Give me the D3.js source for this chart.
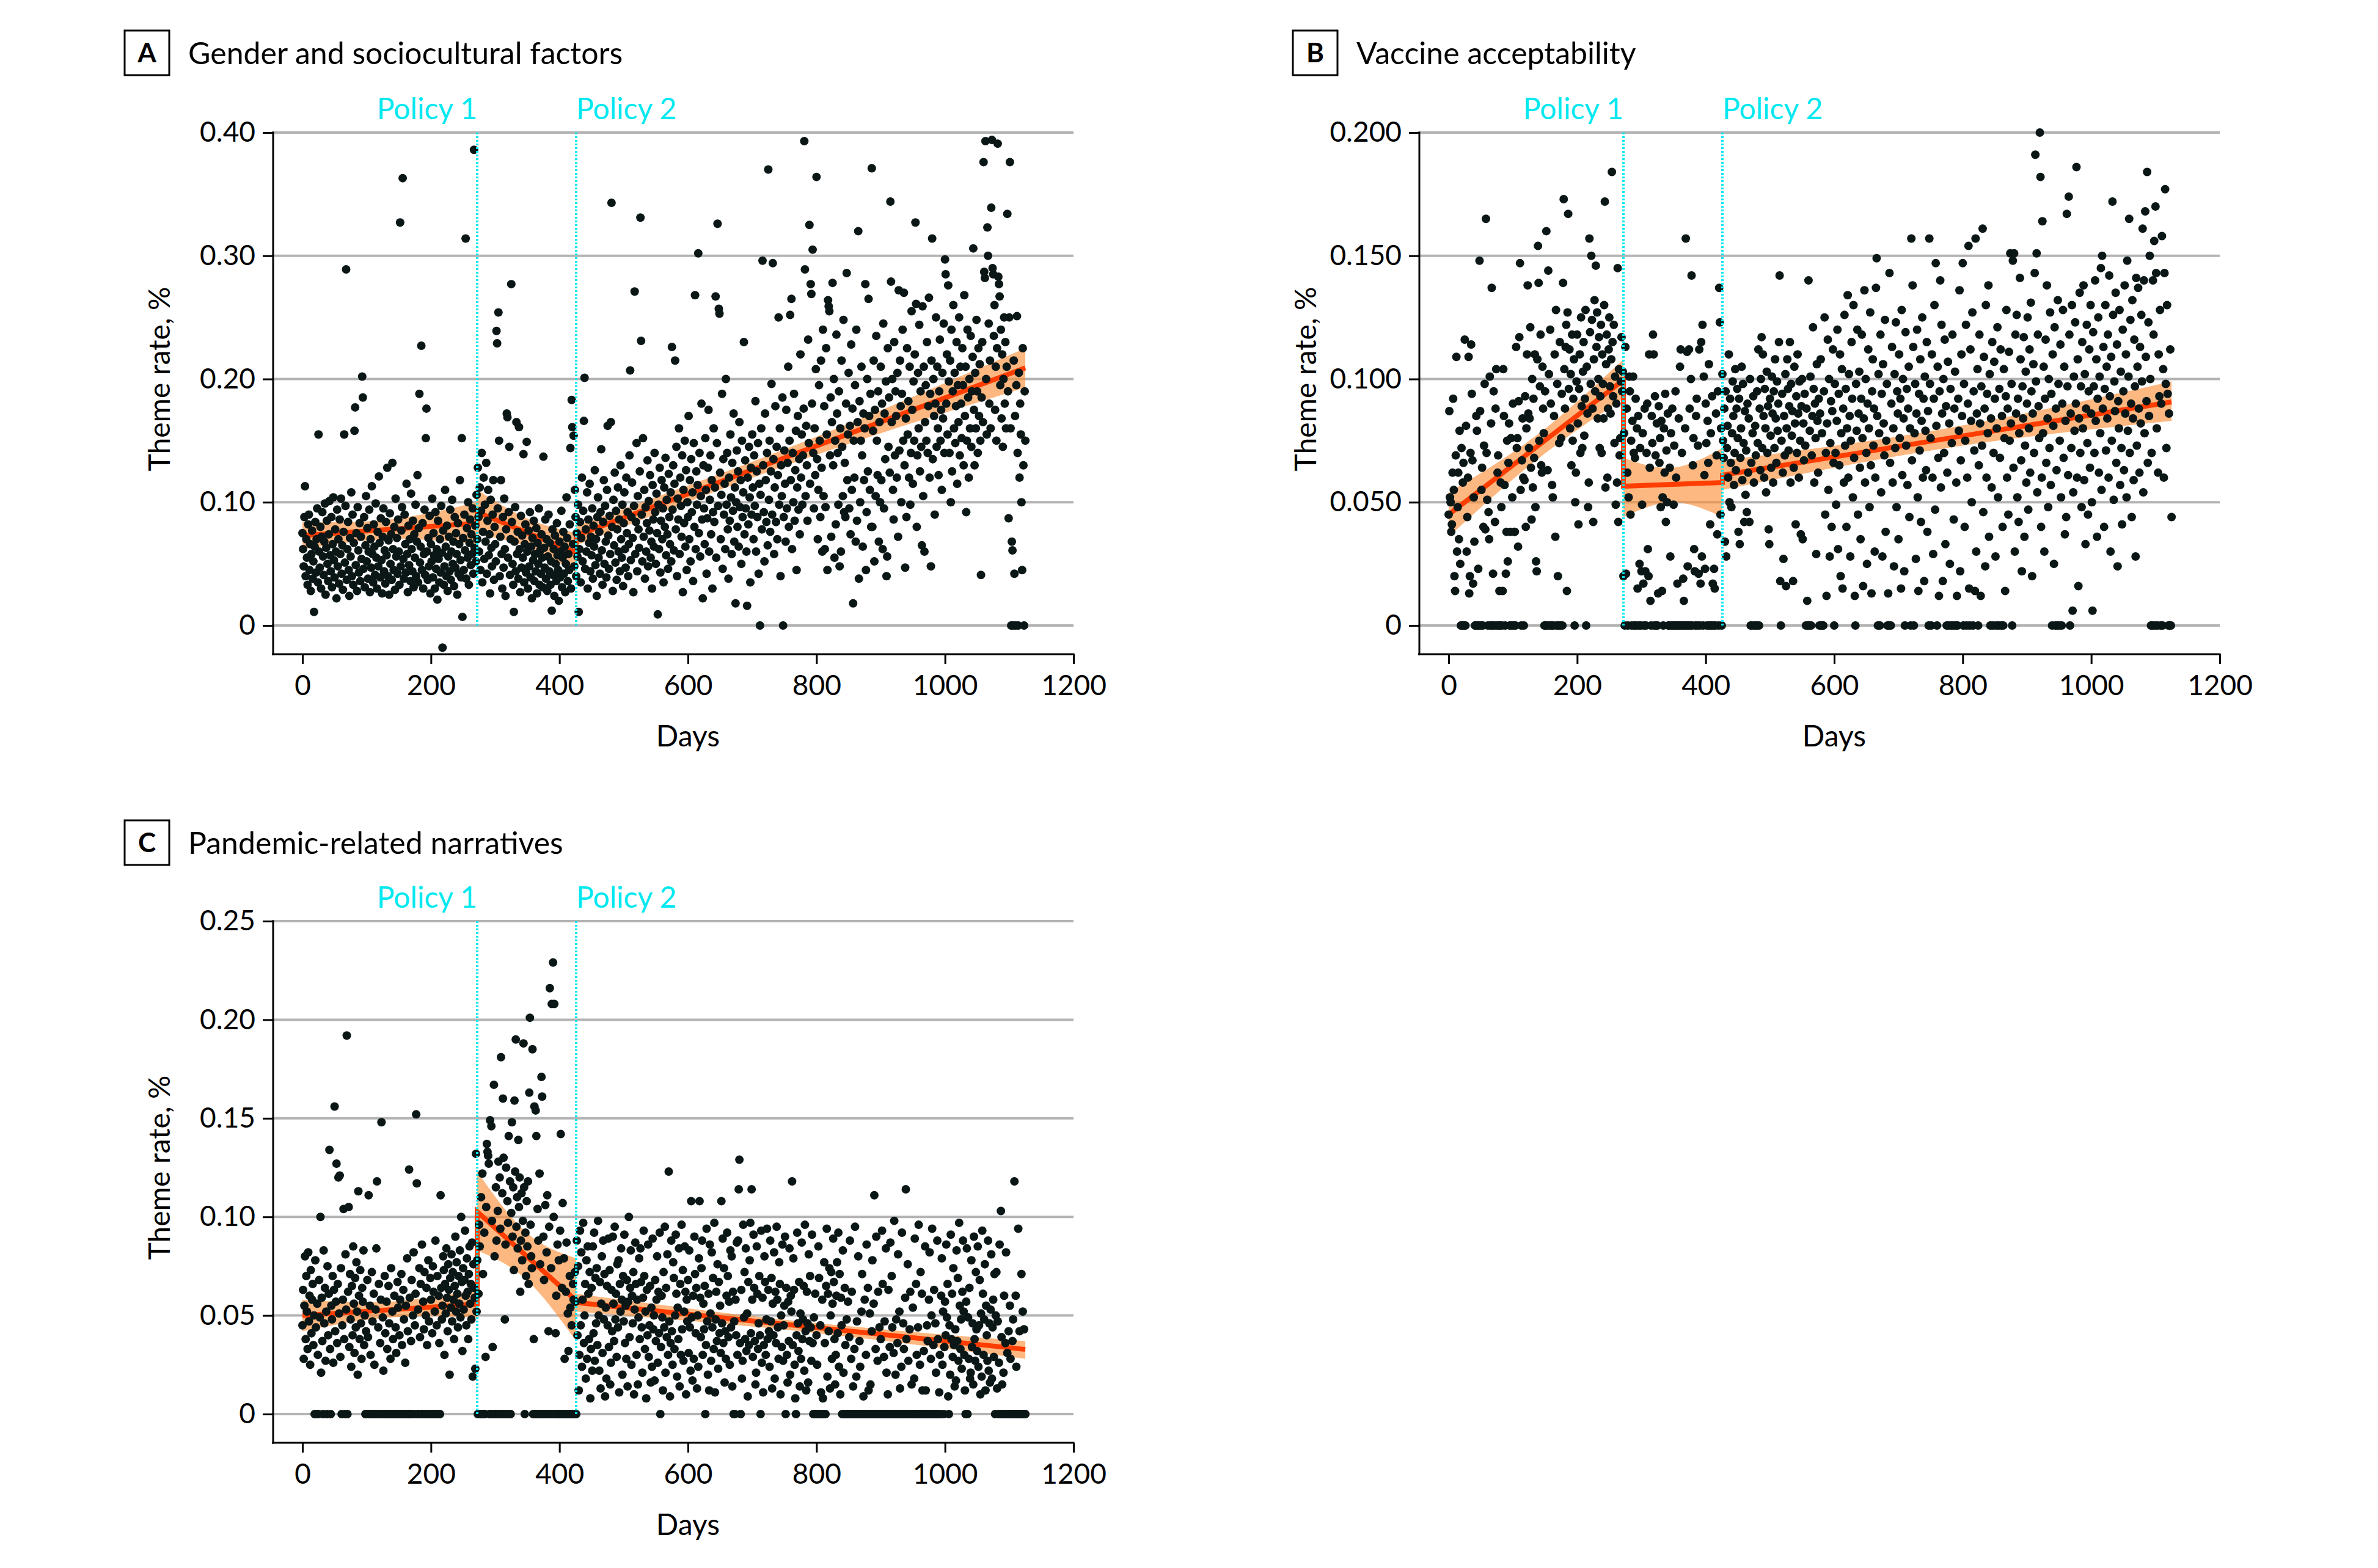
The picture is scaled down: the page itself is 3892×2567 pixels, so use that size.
<!DOCTYPE html>
<html>
<head>
<meta charset="utf-8">
<script src="https://cdn.jsdelivr.net/npm/d3@7"></script>
<style>
  body { margin: 0; background: #fff; }
</style>
</head>
<body>
<div id="container"></div>
<script>
// daily theme rates, one value per day starting at day 0, in thousandths of a percent
const genderRates = [
  75,62,48,88,113,40,70,55,33,82,90,45,66,28,58,77,38,52,11,64,84,43,70,95,35,
  155,60,47,80,30,72,92,56,41,68,99,25,63,85,50,36,74,101,57,44,88,31,66,104,53,
  39,78,60,22,94,48,70,34,86,58,103,42,65,29,76,155,51,97,289,37,62,84,45,24,71,
  56,108,40,90,33,67,158,177,49,75,28,96,61,43,83,36,72,54,202,185,46,88,31,65,105,
  52,79,38,60,94,27,70,47,113,58,35,82,64,41,99,55,30,76,48,121,67,39,87,53,26,
  72,95,44,61,34,84,57,128,40,69,25,91,50,74,37,132,62,45,80,29,103,56,71,42,86,
  60,33,327,48,77,96,363,54,38,90,66,43,115,58,27,81,49,70,36,107,62,44,85,31,74,
  55,98,40,68,122,35,79,188,51,64,227,45,83,30,58,94,41,152,176,60,37,71,48,89,26,
  66,52,103,39,75,57,30,92,46,62,21,85,54,35,70,43,97,59,-18,77,33,48,110,64,40,
  81,28,56,72,44,94,37,60,102,50,68,32,88,47,75,58,25,83,42,66,118,53,39,152,7,
  71,45,90,61,314,38,79,55,100,33,67,86,49,74,58,95,42,386,63,81,52,106,70,128,88,
  60,112,45,93,140,35,76,120,54,98,68,132,42,85,110,57,74,26,102,63,48,90,118,37,80,
  66,52,239,229,95,254,150,40,72,118,58,30,88,47,103,62,24,78,172,169,55,92,145,41,70,
  277,84,50,33,11,68,96,44,165,58,76,38,161,62,27,89,47,73,55,139,35,66,82,43,149,
  60,30,77,48,92,39,64,22,71,53,85,36,58,44,79,26,67,50,95,33,61,42,74,55,31,
  137,63,47,86,38,70,28,56,90,44,67,33,52,12,78,41,62,24,73,50,36,83,57,45,20,
  68,39,60,93,31,55,76,42,64,27,50,104,71,36,58,45,82,144,30,183,161,66,154,48,110,
  88,40,75,56,98,11,62,84,35,71,120,52,93,166,201,46,78,60,108,30,86,67,115,44,72,
  57,95,38,81,64,126,49,70,24,88,104,55,76,42,92,143,61,33,84,118,50,97,68,39,110,
  162,73,46,89,58,165,343,80,28,102,65,124,51,93,37,78,112,60,86,44,130,70,55,98,32,
  83,108,62,47,120,75,92,40,66,138,207,53,88,116,71,27,97,271,58,84,148,44,105,78,63,
  125,331,231,90,52,152,72,110,38,96,60,83,134,48,101,77,122,55,68,30,114,86,64,140,92,
  50,107,75,9,98,62,128,43,85,118,70,95,35,112,80,136,57,102,74,46,123,88,66,108,52,
  226,94,130,61,115,215,78,145,40,103,86,160,58,120,97,72,138,27,110,83,150,64,126,45,100,
  88,170,70,118,52,135,92,108,36,148,80,268,62,125,98,114,302,75,140,56,105,180,86,22,130,
  95,66,152,110,42,87,128,175,60,102,138,74,118,30,92,160,84,112,267,55,148,326,97,257,253,
  124,70,106,188,46,135,90,115,62,200,98,140,78,38,120,85,155,104,58,132,93,172,68,112,18,
  100,142,80,125,64,165,96,118,50,150,88,108,230,74,134,95,60,16,120,82,145,104,35,128,90,
  155,112,70,138,97,182,60,125,88,148,42,115,0,106,160,78,296,130,92,52,172,118,84,140,65,
  370,102,150,76,125,196,90,294,135,58,112,178,84,145,70,122,250,98,160,40,130,105,185,0,88,
  142,115,68,175,95,132,210,80,150,252,118,265,62,140,100,188,85,126,158,45,112,170,94,135,74,
  220,120,155,98,138,176,393,289,105,162,130,85,232,148,325,115,277,269,180,305,140,95,160,122,208,
  364,135,70,110,195,150,88,215,128,60,240,105,178,62,96,225,155,45,264,259,255,138,185,72,165,
  278,130,200,55,150,82,236,172,140,98,190,48,160,60,215,145,105,248,92,132,88,180,286,118,155,
  205,95,162,74,228,110,176,18,150,120,195,68,240,85,165,320,38,182,100,150,210,138,64,172,118,
  160,277,45,92,200,125,265,170,110,188,80,371,80,158,215,52,175,105,235,150,122,190,68,165,100,
  210,118,180,62,245,95,172,135,198,40,56,225,145,185,124,344,279,165,200,110,86,230,138,190,170,
  120,205,72,272,142,215,178,100,188,240,150,270,130,47,168,88,225,155,182,120,210,98,140,255,175,
  115,198,150,220,327,261,80,138,205,160,244,125,190,145,65,259,105,210,60,165,195,150,230,140,178,
  266,120,188,48,215,314,135,200,170,90,180,250,145,210,160,122,190,232,150,175,110,205,168,245,140,
  297,285,180,220,155,276,198,140,215,100,240,125,190,260,160,205,148,178,230,115,195,165,250,138,210,
  180,152,225,195,130,268,170,210,92,150,240,185,120,200,160,235,145,190,218,306,175,130,205,160,248,
  190,140,225,170,212,150,41,185,230,165,376,287,282,393,200,155,323,300,245,180,215,160,339,394,290,
  285,235,260,175,210,150,225,391,283,277,267,195,240,168,220,145,200,250,180,230,160,210,334,190,87,
  250,376,160,0,68,61,0,215,42,170,0,195,251,140,0,205,120,180,155,100,45,225,130,0,190,
  150
]

const vaccineRates = [
  45,87,52,50,38,41,62,92,55,20,14,69,109,30,48,62,35,79,25,0,72,0,58,66,0,
  116,0,81,30,44,60,109,13,20,70,114,94,67,17,52,34,0,0,85,79,0,23,0,148,87,
  0,55,64,0,40,73,98,39,165,70,51,0,46,35,101,0,82,137,0,21,95,0,42,88,104,
  0,62,69,0,14,0,58,48,0,14,104,85,57,0,21,38,75,26,66,82,0,38,76,0,52,
  90,0,38,38,0,113,72,76,32,91,117,147,55,0,67,84,60,0,59,93,40,80,110,138,86,
  72,84,121,64,43,100,56,92,68,110,48,26,22,108,154,139,75,97,118,65,62,105,88,78,0,
  95,0,160,0,63,144,102,0,120,90,0,57,52,0,85,110,36,128,0,98,20,0,74,115,0,
  76,94,0,139,173,104,88,113,122,14,127,167,96,112,80,102,65,118,75,92,108,0,50,62,99,
  118,82,41,96,110,70,125,89,72,103,115,77,92,128,0,105,86,48,58,157,119,98,150,124,88,
  42,108,132,95,146,113,127,84,100,117,72,93,122,70,110,98,84,130,172,56,106,118,60,88,112,
  125,97,86,108,184,115,93,122,74,101,49,90,58,145,42,104,69,76,99,117,95,103,20,78,0,
  113,21,88,62,0,52,101,95,45,75,0,83,101,70,0,68,92,0,80,15,85,0,25,72,0,
  22,49,78,17,0,88,22,0,70,90,31,20,110,64,10,0,85,74,118,110,0,93,69,0,82,
  0,13,89,66,76,48,83,14,52,0,80,62,94,42,71,50,86,0,0,64,28,78,0,88,0,
  49,73,0,95,60,0,17,0,84,0,105,112,0,70,0,19,10,0,80,157,0,111,24,0,112,
  88,0,100,142,0,65,76,31,22,0,85,92,0,73,21,112,0,17,115,28,122,0,101,61,23,
  90,74,0,83,66,106,0,41,78,0,93,17,0,23,15,0,86,69,37,95,0,137,123,45,80,
  0,102,75,68,88,34,95,28,72,81,60,110,50,92,66,48,78,99,85,57,70,104,63,88,96,
  76,38,92,33,68,80,105,59,98,74,42,87,53,71,46,90,62,84,42,100,0,66,0,78,93,
  58,0,81,69,0,95,74,112,0,88,63,100,117,72,110,85,60,96,80,54,103,70,89,39,33,
  92,77,64,101,86,58,95,72,108,84,66,99,79,90,115,142,18,0,75,94,62,27,85,69,102,
  16,80,108,96,71,89,115,58,98,77,87,18,64,105,82,41,93,70,110,86,60,99,75,37,89,
  100,35,82,67,94,73,0,88,10,0,140,0,79,101,0,69,85,121,96,58,90,76,29,106,83,
  62,92,0,86,108,0,78,0,0,95,125,45,70,12,82,116,55,100,28,74,91,40,87,112,66,
  0,98,70,49,83,120,31,94,65,110,20,78,104,15,88,58,126,73,96,40,80,134,60,102,85,
  28,75,115,92,52,130,68,12,0,98,79,120,45,86,103,64,35,92,118,76,16,84,136,58,100,
  70,25,90,112,80,48,127,65,13,95,108,73,88,30,60,137,149,85,0,102,78,0,118,54,94,
  28,106,82,69,124,38,75,98,0,13,0,143,66,0,90,113,58,80,24,102,72,123,48,95,86,
  35,110,76,92,15,128,61,100,84,22,0,119,73,96,57,88,105,44,80,0,157,67,138,113,0,
  78,98,27,86,120,52,14,94,71,108,42,83,125,60,92,18,101,79,63,115,38,87,0,157,98,
  76,0,110,60,29,92,130,47,147,81,0,105,68,12,95,140,56,122,86,18,100,70,116,33,89,
  0,62,107,0,82,25,96,0,74,118,0,43,88,103,0,58,12,0,92,79,136,22,67,110,85,
  147,0,98,40,75,122,0,60,90,154,15,0,112,83,50,127,0,95,71,14,157,30,86,104,0,
  65,118,82,12,97,73,161,46,109,88,24,130,60,94,78,138,36,102,0,84,56,115,0,70,107,
  92,28,0,80,121,52,0,96,68,112,0,85,40,0,104,76,14,93,128,60,88,45,111,75,151,
  82,98,0,148,64,151,30,118,86,126,52,92,42,78,141,108,67,22,97,84,117,36,73,103,58,
  90,125,47,80,112,62,131,95,20,86,106,70,143,191,99,151,54,118,89,76,200,182,40,60,164,
  78,105,30,92,116,66,138,84,48,100,72,127,57,94,0,110,81,25,121,0,88,63,0,132,98,
  0,75,114,52,0,90,128,68,105,37,83,44,167,97,61,174,118,0,86,72,130,6,54,101,79,
  123,90,186,60,108,16,84,135,70,97,48,115,80,138,59,102,33,88,122,74,45,95,112,64,130,
  86,50,6,119,97,70,140,83,108,36,92,125,62,101,78,145,55,150,88,113,40,96,130,71,105,
  84,118,60,142,93,30,109,75,172,126,51,99,87,135,66,114,24,91,80,128,57,103,72,41,120,
  95,63,138,86,110,52,148,79,101,165,70,124,90,44,132,84,59,116,97,28,141,73,105,137,88,
  62,113,82,126,99,161,54,140,78,168,109,91,184,66,123,85,150,100,0,70,0,140,118,156,0,
  170,143,80,0,62,110,93,128,0,90,158,0,104,60,143,177,98,72,130,94,0,86,0,112,0,
  44
]

const pandemicRates = [
  45,63,28,55,80,38,70,52,33,82,47,60,25,73,41,58,66,35,50,0,78,44,0,56,30,
  0,68,49,100,21,59,37,0,83,46,64,27,52,0,75,40,61,134,33,0,55,48,70,26,63,
  156,42,57,127,36,66,120,51,121,29,74,0,45,58,104,38,0,81,53,192,0,62,105,34,71,
  48,24,65,40,85,56,31,69,44,77,52,20,113,60,38,73,46,28,64,57,83,35,50,0,42,
  0,68,39,111,0,55,30,0,72,47,0,61,25,0,53,84,118,0,44,66,0,36,58,148,0,
  49,22,0,70,41,0,57,33,0,65,46,0,28,74,0,52,38,0,60,0,44,31,0,67,54,
  0,40,58,0,71,35,0,63,48,0,26,55,0,79,42,0,124,59,0,37,68,0,50,82,0,
  45,61,152,117,0,53,0,74,39,66,0,86,0,57,43,72,0,50,64,35,0,78,47,0,69,
  58,0,41,75,62,0,52,88,0,45,70,0,60,36,0,111,64,48,55,80,73,30,66,51,84,
  59,42,76,63,20,69,54,81,47,72,58,38,65,90,52,77,61,44,70,56,83,49,100,67,32,
  74,53,68,93,60,45,79,62,38,71,85,56,66,48,87,19,76,64,59,23,132,52,78,0,61,
  96,85,0,110,0,122,71,0,92,0,29,105,137,133,131,127,0,149,0,146,98,34,0,167,80,
  0,115,88,0,103,128,0,120,94,181,0,112,160,130,0,48,86,125,0,108,97,141,0,118,0,
  102,148,90,115,73,159,123,190,95,110,84,139,105,120,62,88,112,78,98,188,115,0,92,70,108,
  85,118,66,163,201,96,80,74,185,0,38,156,0,154,141,0,104,88,0,122,76,0,171,161,0,
  90,68,0,106,0,82,111,0,42,95,216,0,74,208,0,229,100,208,0,41,60,0,86,0,78,
  0,93,142,0,64,107,0,79,28,0,62,87,0,51,32,0,70,54,0,45,0,66,58,0,72,
  57,0,88,40,75,12,30,93,45,82,24,58,97,36,50,66,18,78,28,85,61,38,72,8,33,
  64,22,85,41,92,27,69,46,74,35,98,50,22,67,13,56,80,31,88,48,71,9,54,18,65,
  45,89,34,73,15,26,63,42,90,56,37,95,48,61,29,76,44,78,11,66,52,84,58,20,70,
  47,91,36,55,28,68,14,57,100,39,64,83,25,60,46,72,10,53,87,66,30,58,15,49,79,
  38,84,67,44,21,59,93,70,33,52,8,63,40,86,29,45,65,16,54,24,89,43,50,17,68,
  37,58,80,26,62,41,92,0,34,60,49,12,72,44,95,21,64,39,81,30,123,47,9,36,88,
  42,25,77,69,33,50,91,61,19,54,38,84,14,66,30,96,43,73,27,52,85,62,10,58,47,
  68,31,83,44,22,108,49,17,60,28,90,71,41,64,13,50,24,79,108,59,39,74,88,30,56,
  43,65,0,35,94,47,20,61,12,86,51,27,82,44,69,33,97,11,48,62,37,76,23,67,41,
  55,31,108,46,89,36,74,16,42,28,60,92,70,39,57,25,83,44,80,14,62,0,47,0,58,
  40,87,30,88,114,129,36,0,63,18,27,96,49,72,38,84,32,51,9,67,35,78,97,41,114,
  58,29,91,64,37,15,21,85,61,33,46,70,40,0,93,26,59,11,35,80,67,30,48,94,38,
  63,42,24,88,47,69,13,56,40,82,18,62,36,95,58,44,28,77,66,10,50,34,86,27,45,
  55,90,0,64,30,16,57,37,84,20,60,52,118,35,79,63,25,8,0,40,92,46,32,67,14,
  51,28,87,38,48,65,22,96,42,12,62,46,16,81,37,70,44,27,91,36,0,49,0,61,0,
  40,25,0,85,69,0,45,11,0,58,8,0,77,36,0,65,94,19,61,42,74,13,50,72,28,
  56,89,67,38,15,30,60,77,41,92,24,71,10,59,45,0,83,21,0,64,35,0,48,0,57,
  0,39,88,0,28,62,0,14,0,33,95,0,19,47,0,80,0,37,24,0,52,71,0,9,0,
  58,0,30,86,0,64,12,0,51,15,0,42,78,0,56,111,0,33,90,0,27,62,0,44,0,
  38,0,93,66,0,29,47,0,84,21,0,10,63,0,34,87,0,70,44,0,31,98,0,20,48,
  0,36,81,0,52,13,0,24,92,0,46,33,0,59,114,38,0,76,27,0,43,62,0,15,0,
  54,0,18,89,0,66,30,0,44,96,0,25,72,0,61,12,0,32,0,85,12,0,45,37,0,
  58,82,0,28,50,94,0,35,63,0,46,21,0,88,38,0,11,30,0,60,79,25,52,0,34,
  57,40,86,49,66,9,0,45,20,91,38,61,29,74,35,14,43,17,83,37,69,27,97,55,33,
  48,23,62,88,52,30,12,0,57,84,0,49,28,64,18,21,78,34,46,15,90,38,27,72,43,
  32,85,24,45,68,10,51,19,93,61,30,48,76,12,55,40,27,88,22,46,16,53,81,18,44,
  58,29,71,0,50,72,13,47,0,26,86,0,103,39,15,0,21,60,0,36,82,0,31,0,42,
  0,55,28,0,0,37,48,0,118,0,60,24,0,0,94,0,42,0,0,71,0,52,0,43,0,
  0
]

// segmented regression fit: [day, rate in thousandths]
const genderFit = [[0, 73], [272, 83], [272, 92], [426, 59], [426, 73], [1125, 209]]
const vaccineFit = [[0, 45], [272, 99.6], [272, 56.5], [426, 58], [426, 61], [1125, 90.7]]
const pandemicFit = [[0, 50], [272, 55.8], [272, 102.6], [426, 57.5], [426, 56.6], [1125, 32.8]]

// confidence bands per segment: [day, lower, upper]
const genderBand = [
  [[0, 62, 84], [136, 70, 86], [272, 66, 100]],
  [[272, 74, 110], [349, 64, 87], [426, 43, 75]],
  [[426, 65, 81], [775, 134, 148], [1125, 193, 225]]
]
const vaccineBand = [
  [[0, 36, 54], [136, 67, 77], [272, 92, 108]],
  [[272, 44, 68], [349, 50, 64], [426, 44, 72]],
  [[426, 55, 67], [775, 72, 80], [1125, 83, 99]]
]
const pandemicBand = [
  [[0, 42, 58], [136, 49, 57], [272, 49, 63]],
  [[272, 83, 123], [349, 68, 92], [426, 37, 79]],
  [[426, 52, 61], [775, 42, 47], [1125, 28, 37]]
]

const policyDays = [272, 426]
const policyLabels = ['Policy 1', 'Policy 2']
const xTicks = [0, 200, 400, 600, 800, 1000, 1200]
const yTicksGender = [0, 0.10, 0.20, 0.30, 0.40]
const yTicksVaccine = [0, 0.050, 0.100, 0.150, 0.200]
const yTicksPandemic = [0, 0.05, 0.10, 0.15, 0.20, 0.25]

const panels = [
  { letter: 'A', title: 'Gender and sociocultural factors', rates: genderRates, fit: genderFit, band: genderBand,
    yTicks: yTicksGender, fmt: d => d === 0 ? '0' : d3.format('.2f')(d), dx: 0, dy: 0, boxX: 204, boxY: 50 },
  { letter: 'B', title: 'Vaccine acceptability', rates: vaccineRates, fit: vaccineFit, band: vaccineBand,
    yTicks: yTicksVaccine, fmt: d => d === 0 ? '0' : d3.format('.3f')(d), dx: 1876, dy: 0, boxX: 2116, boxY: 50 },
  { letter: 'C', title: 'Pandemic-related narratives', rates: pandemicRates, fit: pandemicFit, band: pandemicBand,
    yTicks: yTicksPandemic, fmt: d => d === 0 ? '0' : d3.format('.2f')(d), dx: 0, dy: 1291, boxX: 204, boxY: 1343 }
]

const W = 3892, H = 2567
const font = "Lato, 'Liberation Sans', sans-serif"
const cyan = '#00e8f0'

const svg = d3.select('#container')
  .append('svg')
  .attr('width', W)
  .attr('height', H)
  .style('background', '#fff')

panels.forEach(p => {
  // header box + title
  svg.append('rect')
    .attr('x', p.boxX).attr('y', p.boxY)
    .attr('width', 73).attr('height', 73)
    .attr('fill', 'none').attr('stroke', '#000').attr('stroke-width', 3)
  svg.append('text')
    .attr('x', p.boxX + 36.5).attr('y', p.boxY + 52)
    .attr('text-anchor', 'middle')
    .attr('font-family', font).attr('font-weight', 'bold').attr('font-size', 44)
    .text(p.letter)
  svg.append('text')
    .attr('x', p.boxX + 104).attr('y', p.boxY + 55)
    .attr('font-family', font).attr('font-size', 50)
    .text(p.title)

  const g = svg.append('g').attr('transform', `translate(${p.dx},${p.dy})`)
  const yMax = p.yTicks[p.yTicks.length - 1]

  const x = d3.scaleLinear().domain([0, 1200]).range([495, 1757])
  const y = d3.scaleLinear().domain([0, yMax]).range([1024, 217])

  //gridlines
  g.append('g').selectAll('line')
    .data(p.yTicks)
    .join('line')
    .attr('x1', 445).attr('x2', 1757)
    .attr('y1', d => y(d)).attr('y2', d => y(d))
    .attr('stroke', '#b3b3b3').attr('stroke-width', 4)

  //confidence bands
  const area = d3.area()
    .x(d => x(d[0]))
    .y0(d => y(d[1] / 1000))
    .y1(d => y(d[2] / 1000))
    .curve(d3.curveNatural)
  g.append('g').selectAll('path')
    .data(p.band)
    .join('path')
    .attr('d', area)
    .attr('fill', '#fb8a32')
    .attr('fill-opacity', 0.62)

  //fit line
  const line = d3.line().x(d => x(d[0])).y(d => y(d[1] / 1000))
  g.append('path')
    .attr('d', line(p.fit))
    .attr('fill', 'none')
    .attr('stroke', '#ff3d00')
    .attr('stroke-width', 8)

  //daily points
  g.append('g').selectAll('circle')
    .data(p.rates)
    .join('circle')
    .attr('cx', (d, i) => x(i))
    .attr('cy', d => y(d / 1000))
    .attr('r', 7)
    .attr('fill', '#0b1716')

  //policy markers
  g.append('g').selectAll('line')
    .data(policyDays)
    .join('line')
    .attr('x1', d => x(d)).attr('x2', d => x(d))
    .attr('y1', y(0)).attr('y2', y(yMax))
    .attr('stroke', cyan).attr('stroke-width', 4)
    .attr('stroke-dasharray', '3,3')
  g.append('g').selectAll('text')
    .data(policyDays)
    .join('text')
    .attr('x', d => x(d))
    .attr('y', 195)
    .attr('text-anchor', (d, i) => i === 0 ? 'end' : 'start')
    .attr('font-family', font).attr('font-size', 48)
    .attr('fill', cyan)
    .text((d, i) => policyLabels[i])

  //axes
  const xAxis = g.append('g')
    .attr('transform', 'translate(0,1071)')
    .call(d3.axisBottom(x).tickValues(xTicks).tickSize(16).tickPadding(18).tickFormat(d3.format('d')))
  const yAxis = g.append('g')
    .attr('transform', 'translate(447,0)')
    .call(d3.axisLeft(y).tickValues(p.yTicks).tickSize(17).tickPadding(12).tickFormat(p.fmt))
  ;[xAxis, yAxis].forEach(a => {
    a.select('.domain').remove()
    a.selectAll('line').attr('stroke', '#000').attr('stroke-width', 3)
    a.selectAll('text').attr('font-family', font).attr('font-size', 46).attr('fill', '#000')
  })
  g.append('line')
    .attr('x1', 445).attr('x2', 1758.5).attr('y1', 1071).attr('y2', 1071)
    .attr('stroke', '#000').attr('stroke-width', 3)
  g.append('line')
    .attr('x1', 447).attr('x2', 447).attr('y1', y(yMax) - 1.5).attr('y2', 1072.5)
    .attr('stroke', '#000').attr('stroke-width', 3)

  g.append('text')
    .attr('x', x(600)).attr('y', 1222)
    .attr('text-anchor', 'middle')
    .attr('font-family', font).attr('font-size', 48)
    .text('Days')
  g.append('text')
    .attr('transform', `translate(278,${y(yMax / 2)}) rotate(-90)`)
    .attr('text-anchor', 'middle')
    .attr('font-family', font).attr('font-size', 48)
    .text('Theme rate, %')
})
</script>
</body>
</html>
